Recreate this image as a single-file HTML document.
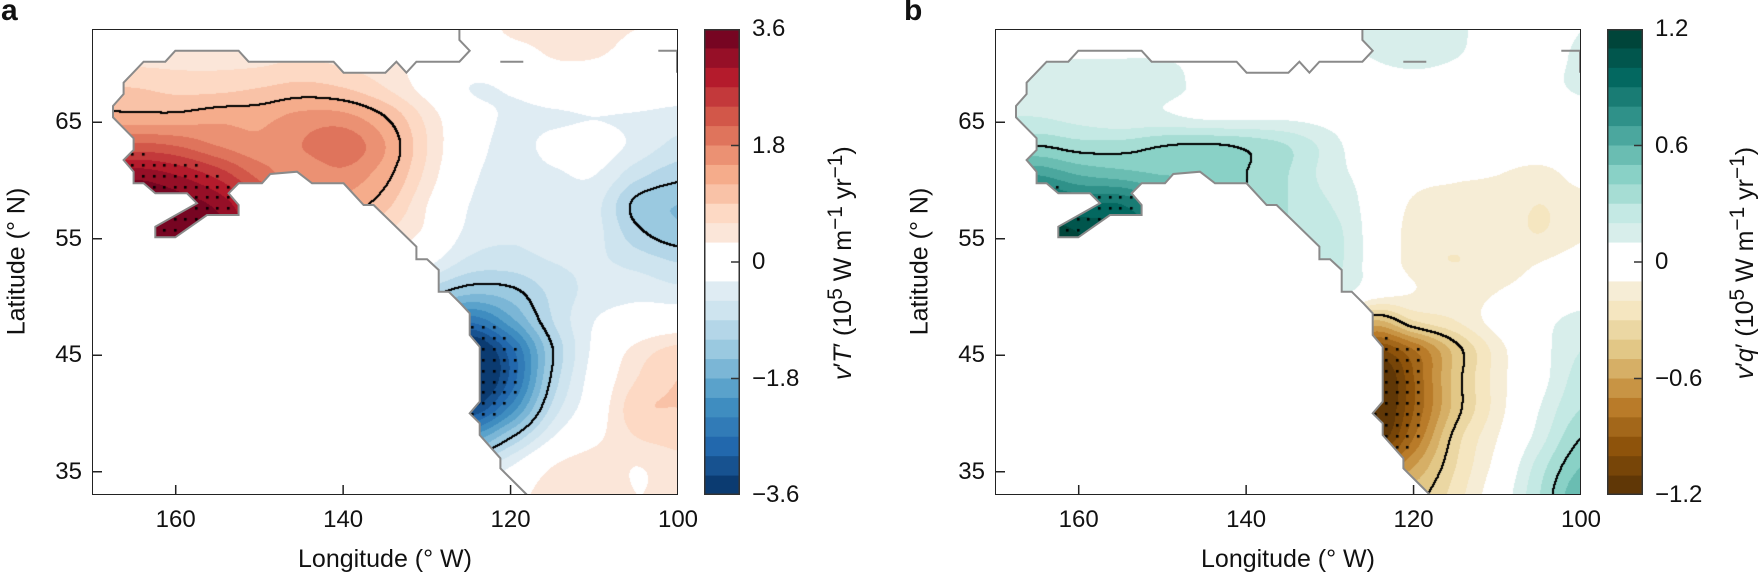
<!DOCTYPE html>
<html><head><meta charset="utf-8">
<style>
html,body{margin:0;padding:0;background:#fff;}
#root{position:relative;width:1760px;height:578px;overflow:hidden;font-family:"Liberation Sans",Arial,sans-serif;color:#111;}
.abs{position:absolute;}
.plot{position:absolute;border:1.5px solid #222;box-sizing:border-box;}
.cbar{position:absolute;border:1.5px solid #333;box-sizing:border-box;}
.tl{position:absolute;font-size:24px;line-height:24px;white-space:nowrap;}
.lbl{position:absolute;font-size:25px;white-space:nowrap;}
.plab{position:absolute;font-size:30px;font-weight:bold;}
</style></head>
<body>
<div id="root">
  <div class="plab" style="left:1px;top:-6px;">a</div>
  <div class="plab" style="left:904px;top:-6px;">b</div>
</div>
<script>
// ---------- data ----------
const LONS=[170,165,160,155,150,145,140,135,130,125,120,115,110,105,100];
const LATS=[73,70.5,68,65.5,63,60.5,58,55.5,53,50.5,48,45.5,43,40.5,38,35.5,33];
const fieldA=[
[0.3,0.3,0.3,0.3,0.3,0.3,0.3,0.3,0.2,0.1,0.35,0.35,0.35,0.3,0.3],
[0.5,0.5,0.5,0.5,0.5,0.6,0.5,0.4,0.15,-0.05,0.1,0.3,0.3,0.2,0.1],
[0.9,0.9,0.8,0.8,0.9,1.0,0.9,0.6,0.15,-0.3,-0.25,-0.05,0.05,0.05,-0.05],
[1.3,1.3,1.3,1.4,1.4,1.6,1.6,1.2,0.5,-0.1,-0.35,-0.35,-0.3,-0.35,-0.45],
[2.0,2.2,2.1,1.8,1.6,1.8,2.0,1.5,0.6,-0.1,-0.4,-0.2,-0.1,-0.4,-0.7],
[3.0,3.2,3.0,2.6,2.0,1.6,1.7,1.3,0.5,-0.2,-0.45,-0.35,-0.3,-0.8,-1.1],
[3.6,3.6,3.5,3.2,2.5,1.6,1.4,1.0,0.3,-0.3,-0.5,-0.45,-0.5,-1.3,-1.5],
[3.8,3.8,3.8,3.4,2.5,1.5,1.0,0.6,0.2,-0.4,-0.55,-0.45,-0.5,-1.1,-1.4],
[3.8,3.8,3.8,3.0,2.0,1.2,0.6,0.3,-0.2,-0.7,-0.75,-0.6,-0.55,-0.7,-0.9],
[0,0,0,0,0,0,0,-0.5,-1.0,-1.4,-1.3,-0.8,-0.5,-0.4,-0.5],
[0,0,0,0,0,0,0,-1.0,-1.8,-2.6,-1.9,-0.9,-0.3,-0.1,0.0],
[0,0,0,0,0,0,0,-1.5,-3.0,-3.8,-2.8,-1.2,-0.2,0.4,0.7],
[0,0,0,0,0,0,0,-1.5,-3.0,-3.9,-2.9,-1.1,-0.1,0.6,0.9],
[0,0,0,0,0,0,0,-1.3,-2.5,-3.3,-2.3,-0.8,0.0,0.8,0.9],
[0,0,0,0,0,0,0,-0.8,-1.6,-2.0,-1.2,-0.3,0.2,0.6,0.7],
[0,0,0,0,0,0,0,0,-0.5,-0.8,-0.3,0.3,0.5,0.3,0.5],
[0,0,0,0,0,0,0,0,-0.2,-0.3,0.1,0.5,0.5,0.3,0.4]];
const fieldB=[
[0.05,0.05,0.05,0.05,0.05,0.05,0.05,0.05,0.05,0.12,0.15,0.12,0.05,0.05,0.1],
[0.1,0.1,0.1,0.1,0.1,0.08,0.05,0.05,0.05,0.1,0.15,0.1,0.05,0.05,0.12],
[0.15,0.15,0.13,0.12,0.12,0.08,0.04,0.04,0.0,0.0,0.0,0.0,0.0,0.05,0.12],
[0.2,0.2,0.16,0.12,0.12,0.08,0.08,0.08,0.05,0.0,0.0,0.03,0.0,0.0,0.03],
[0.35,0.4,0.35,0.35,0.4,0.42,0.38,0.3,0.15,0.0,0.0,0.0,0.0,0.0,0.0],
[0.7,0.7,0.6,0.55,0.5,0.5,0.4,0.3,0.15,0.05,-0.05,-0.08,-0.1,-0.15,-0.05],
[1.0,1.0,0.9,0.9,0.7,0.5,0.4,0.3,0.2,0.05,-0.12,-0.15,-0.15,-0.2,-0.15],
[1.2,1.2,1.1,1.0,0.8,0.5,0.4,0.3,0.25,0.05,-0.15,-0.18,-0.15,-0.2,-0.12],
[1.2,1.2,1.1,0.9,0.6,0.4,0.3,0.3,0.25,0.05,-0.15,-0.2,-0.15,-0.1,-0.05],
[0,0,0,0,0,0,0.2,0.25,0.2,0.0,-0.1,-0.15,-0.1,-0.05,0.0],
[0,0,0,0,0,0,0,0.1,0.0,-0.5,-0.3,-0.2,-0.05,0.05,0.15],
[0,0,0,0,0,0,0,0,-0.6,-1.0,-0.8,-0.45,-0.15,0.05,0.2],
[0,0,0,0,0,0,0,0,-1.0,-1.3,-0.9,-0.45,-0.15,0.05,0.25],
[0,0,0,0,0,0,0,0,-1.1,-1.3,-0.9,-0.45,-0.15,0.1,0.3],
[0,0,0,0,0,0,0,0,-0.9,-1.2,-0.8,-0.35,-0.1,0.15,0.4],
[0,0,0,0,0,0,0,0,-0.6,-0.8,-0.6,-0.3,-0.05,0.25,0.5],
[0,0,0,0,0,0,0,0,-0.4,-0.5,-0.45,-0.25,0.0,0.3,0.6]];
const xTicks=[160,140,120,100];
const yTicks=[65,55,45,35];
const cbTicksA=[3.6,1.8,0,-1.8,-3.6];
const cbTicksB=[1.2,0.6,0,-0.6,-1.2];
// coastline (lon, lat)
const coastPx=[[459,29],[459,40],[469.3,50.7],[459,61.7],[416,61.7],[406,72.7],[396,61.7],[385,72.7],[343.3,72.7],[333.3,61.7],[248.3,61.7],[238.3,50.7],[175,50.7],[165,61.7],[143.3,61.7],[123.3,82.7],[123.3,94],[112.7,106],[112.7,117.3],[133.3,138.3],[133.3,150],[123.3,160],[133.3,171.7],[133.3,183.3],[143.3,183.3],[155,193.3],[186.7,193.3],[196.7,203.3],[155,226.7],[155,237.3],[175,237.3],[206.7,215],[238.3,215],[238.3,205],[228.3,193.3],[238.3,183.3],[261.7,183.3],[270,174],[296.7,171.7],[311.7,183.3],[343.3,183.3],[363.3,205],[373.3,205],[416,246.7],[416,259.3],[426.7,259.3],[438.3,270],[438.3,291.7],[448.3,291.7],[460,303.3],[469.3,313.3],[469.3,335],[479.3,346.7],[479.3,401.7],[469.3,413.3],[479.3,423.3],[479.3,435],[500,458.3],[500,468.3],[526.7,495]];
const coast=coastPx.map(p=>[170-(p[0]-91.7)/8.37, 73-(p[1]-29)/11.65]);

// ---------- geometry ----------
const PW=586, PH=466, PT=29;
const panels=[
 {id:'a',left:92,cbLeft:704,field:fieldA,max:3.6,step:0.3,ticks:cbTicksA,sig:1.2,dot:2.5,
  anchors:['#053061','#2166ac','#4393c3','#92c5de','#d1e5f0','#f7f7f7','#fddbc7','#f4a582','#d6604d','#b2182b','#67001f'],
  title:'<i>v</i>′<i>T</i>′ (10<sup>5</sup> W m<sup>−1</sup> yr<sup>−1</sup>)', titleX:841},
 {id:'b',left:995,cbLeft:1607,field:fieldB,max:1.2,step:0.1,ticks:cbTicksB,sig:0.4,dot:0.75,
  anchors:['#543005','#8c510a','#bf812d','#dfc27d','#f6e8c3','#f5f5f5','#c7eae5','#80cdc1','#35978f','#01665e','#003c30'],
  title:'<i>v</i>′<i>q</i>′ (10<sup>5</sup> W m<sup>−1</sup> yr<sup>−1</sup>)', titleX:1743}
];
function xOf(lon){return (170-lon)/70*PW;}
function yOf(lat){return (73-lat)/40*PH;}
function hex(h){return [parseInt(h.substr(1,2),16),parseInt(h.substr(3,2),16),parseInt(h.substr(5,2),16)];}
function cmap(anchors,t){
  t=Math.max(-1,Math.min(1,t)); const f=(t+1)/2*10; const i=Math.min(9,Math.floor(f)); const u=f-i;
  const a=hex(anchors[i]),b=hex(anchors[i+1]);
  return [0,1,2].map(k=>Math.round(a[k]+(b[k]-a[k])*u));
}
function binColor(p,v){
  let k=Math.floor(v/p.step);
  if(k===0||k===-1) return [255,255,255];
  const n=Math.round(p.max/p.step);
  k=Math.max(-n,Math.min(n-1,k));
  const c=(k+0.5)*p.step;
  return cmap(p.anchors,c/p.max);
}
function cr(p0,p1,p2,p3,t){return 0.5*(2*p1+(-p0+p2)*t+(2*p0-5*p1+4*p2-p3)*t*t+(-p0+3*p1-3*p2+p3)*t*t*t);}
function sample(F,lon,lat){
  const fc=(170-lon)/5, fr=(73-lat)/2.5;
  const c=Math.floor(fc), r=Math.floor(fr), tc=fc-c, tr=fr-r;
  const g=(rr,cc)=>F[Math.max(0,Math.min(LATS.length-1,rr))][Math.max(0,Math.min(LONS.length-1,cc))];
  const rows=[];
  for(let i=-1;i<=2;i++) rows.push(cr(g(r+i,c-1),g(r+i,c),g(r+i,c+1),g(r+i,c+2),tc));
  return cr(rows[0],rows[1],rows[2],rows[3],tr);
}
const root=document.getElementById('root');
const NS='http://www.w3.org/2000/svg';

panels.forEach(p=>{
  const cv=document.createElement('canvas'); cv.width=PW; cv.height=PH;
  cv.style.cssText=`position:absolute;left:${p.left}px;top:${PT}px;`;
  
  
  root.appendChild(cv);
  const ctx=cv.getContext('2d');
  const mc=document.createElement('canvas'); mc.width=PW; mc.height=PH; const mx=mc.getContext('2d');
  mx.beginPath(); coast.forEach((q,i)=>{const X=xOf(q[0]),Y=yOf(q[1]); i?mx.lineTo(X,Y):mx.moveTo(X,Y);});
  mx.lineTo(PW+2,PH+2); mx.lineTo(PW+2,-2); mx.closePath(); mx.fillStyle='#000'; mx.fill();
  const md=mx.getImageData(0,0,PW,PH).data;
  const inside=(x,y)=>md[(y*PW+x)*4+3]>128;
  const vals=new Float32Array(PW*PH);
  const img=ctx.createImageData(PW,PH); const d=img.data;
  for(let y=0;y<PH;y++){const lat=73-y/PH*40;
    for(let x=0;x<PW;x++){const lon=170-x/PW*70;
      const v=sample(p.field,lon,lat); vals[y*PW+x]=v;
      const o=(y*PW+x)*4;
      const col=inside(x,y)?binColor(p,v):[255,255,255];
      d[o]=col[0];d[o+1]=col[1];d[o+2]=col[2];d[o+3]=255;}}
  const sg=(x,y)=>Math.abs(vals[y*PW+x])>p.sig;
  const setk=(x,y)=>{if(x<PW&&y<PH){const o=(y*PW+x)*4;d[o]=d[o+1]=d[o+2]=0;}};
  for(let y=0;y<PH-1;y++)for(let x=0;x<PW-1;x++){
    if(!inside(x,y)||!inside(x+1,y)||!inside(x,y+1))continue;
    const s=sg(x,y);
    if(s!==sg(x+1,y)||s!==sg(x,y+1)){setk(x,y);setk(x+1,y);setk(x,y+1);setk(x+1,y+1);}
  }
  ctx.putImageData(img,0,0);
  ctx.fillStyle='#000';
  for(let lat=72.5;lat>33;lat-=0.93)for(let lon=169;lon>100;lon-=1.27){
    const X=Math.round(xOf(lon)),Y=Math.round(yOf(lat));
    if(X<1||Y<1||X>=PW-1||Y>=PH-1||!inside(X,Y))continue;
    if(Math.abs(sample(p.field,lon,lat))>p.dot) ctx.fillRect(X-1,Y-1,2.6,2.6);
  }
  const svg=document.createElementNS(NS,'svg');
  svg.setAttribute('width',PW);svg.setAttribute('height',PH);
  svg.style.cssText=`position:absolute;left:${p.left}px;top:${PT}px;overflow:hidden;`;
  
  
  const pl=document.createElementNS(NS,'polyline');
  pl.setAttribute('points',coast.map(q=>xOf(q[0]).toFixed(1)+','+yOf(q[1]).toFixed(1)).join(' '));
  pl.setAttribute('fill','none');pl.setAttribute('stroke','#8a8a8a');pl.setAttribute('stroke-width','2');
  
  
  svg.appendChild(pl);
  const isl=document.createElementNS(NS,'path');
  isl.setAttribute('d',`M${500-91.7},${61.7-29} H${523-91.7} M${658-91.7},${50.7-29} H${PW} M${PW-1},${50.7-29} V${72.7-29}`);
  isl.setAttribute('stroke','#8a8a8a');isl.setAttribute('stroke-width','2');isl.setAttribute('fill','none');
  
  
  svg.appendChild(isl);
  root.appendChild(svg);
  const fr=document.createElement('div'); fr.className='plot';
  fr.style.cssText+=`left:${p.left}px;top:${PT}px;width:${PW}px;height:${PH}px;`;
  
  
  root.appendChild(fr);
  const ts=document.createElementNS(NS,'svg');
  ts.setAttribute('width',PW);ts.setAttribute('height',PH);
  ts.style.cssText=`position:absolute;left:${p.left}px;top:${PT}px;`;
  
  
  let dd='';
  xTicks.forEach(t=>{dd+=`M${xOf(t)},${PH} V${PH-10} `;});
  yTicks.forEach(t=>{dd+=`M0,${yOf(t)} H10 `;});
  const tp=document.createElementNS(NS,'path'); tp.setAttribute('d',dd); tp.setAttribute('stroke','#222'); tp.setAttribute('stroke-width','1.5');
  ts.appendChild(tp); root.appendChild(ts);
  xTicks.forEach(t=>{const e=document.createElement('div'); e.className='tl'; e.textContent=t;
    e.style.left=(p.left+xOf(t)-40)+'px'; e.style.width='80px'; e.style.textAlign='center'; e.style.top='508px';
    
    
    root.appendChild(e);});
  yTicks.forEach(t=>{const e=document.createElement('div'); e.className='tl'; e.textContent=t;
    e.style.left=(p.left-90)+'px'; e.style.width='80px'; e.style.textAlign='right'; e.style.top=(PT+yOf(t)-12)+'px';
    
    
    root.appendChild(e);});
  const xl=document.createElement('div'); xl.className='lbl'; xl.textContent='Longitude (° W)';
  xl.style.left=p.left+'px'; xl.style.width=PW+'px'; xl.style.textAlign='center'; xl.style.top='545px';
  
  
  root.appendChild(xl);
  const yl=document.createElement('div'); yl.className='lbl'; yl.textContent='Latitude (° N)';
  yl.style.cssText+=`left:${p.left-75-100}px;top:${PT+PH/2-15}px;width:200px;text-align:center;transform:rotate(-90deg);`;
  
  
  root.appendChild(yl);
  const n=Math.round(p.max/p.step)*2;
  const cb=document.createElementNS(NS,'svg');
  cb.setAttribute('width',36);cb.setAttribute('height',PH);
  cb.style.cssText=`position:absolute;left:${p.cbLeft}px;top:${PT}px;`;
  
  
  const bh=PH/n;
  for(let i=0;i<n;i++){
    const v=p.max-(i+0.5)*p.step; const c=binColor(p,v);
    const r=document.createElementNS(NS,'rect');
    r.setAttribute('x',0);r.setAttribute('y',(i*bh).toFixed(2));r.setAttribute('width',36);r.setAttribute('height',(bh+0.6).toFixed(2));
    r.setAttribute('fill',`rgb(${c[0]},${c[1]},${c[2]})`);
    
    
    cb.appendChild(r);
  }
  const bd=document.createElementNS(NS,'rect'); bd.setAttribute('x',0.75);bd.setAttribute('y',0.75);bd.setAttribute('width',34.5);bd.setAttribute('height',PH-1.5);
  bd.setAttribute('fill','none');bd.setAttribute('stroke','#333');bd.setAttribute('stroke-width','1.5');
  cb.appendChild(bd);
  p.ticks.forEach(t=>{const y=(p.max-t)/(2*p.max)*PH;
    const l=document.createElementNS(NS,'path'); l.setAttribute('d',`M27,${y} H36`); l.setAttribute('stroke','#333'); l.setAttribute('stroke-width','1.5');
    cb.appendChild(l);
    const e=document.createElement('div'); e.className='tl'; e.textContent=(t<0?'−':'')+Math.abs(t).toString();
    if(t===0)e.textContent='0';
    e.style.left=(p.cbLeft+48)+'px'; e.style.top=(PT+y-12)+'px';
    
    
    root.appendChild(e);});
  root.appendChild(cb);
  const ct=document.createElement('div'); ct.className='lbl'; ct.innerHTML=p.title;
  ct.style.cssText+=`left:${p.titleX-160}px;top:${PT+PH/2-16}px;width:320px;text-align:center;transform:rotate(-90deg);`;
  
  
  root.appendChild(ct);
});
</script>
</body></html>
